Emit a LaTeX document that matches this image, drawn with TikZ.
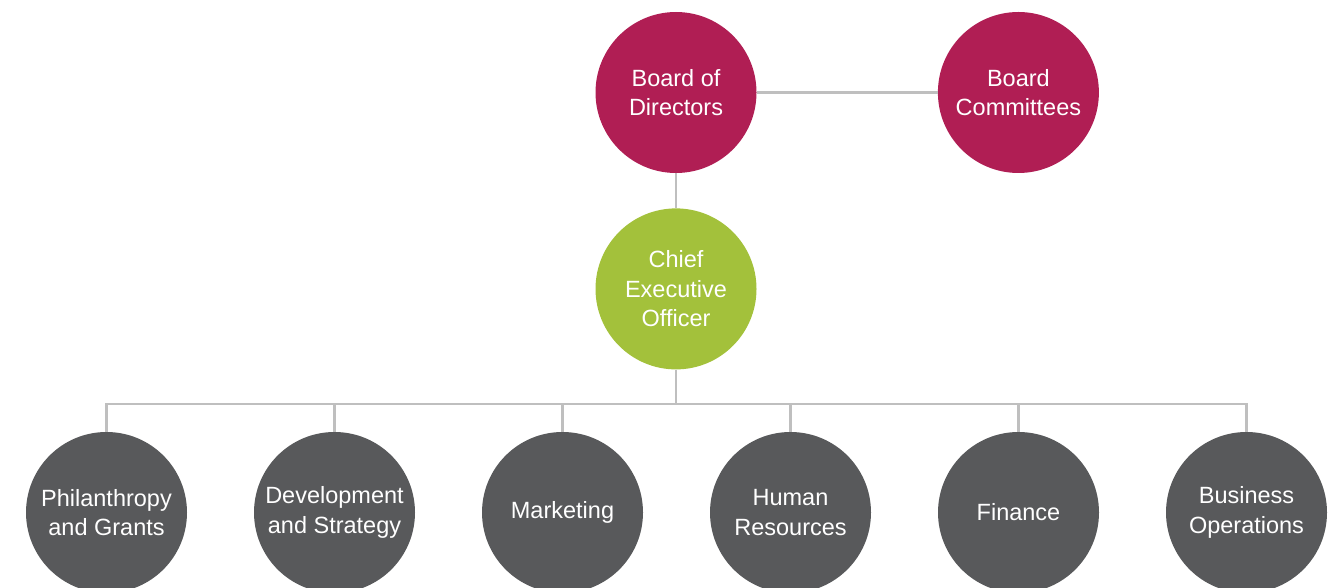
\documentclass[tikz,border=0pt]{standalone}
\usepackage{fontspec}
\setmainfont{Liberation Sans}
\usepackage{xcolor}
\usetikzlibrary{positioning}

\definecolor{boardred}{HTML}{B01E54}
\definecolor{ceogreen}{HTML}{A3C13B}
\definecolor{deptgray}{HTML}{58595B}
\definecolor{linkgray}{HTML}{BFBFBF}

\begin{document}
\begin{tikzpicture}[x=1pt, y=1pt,
        unit/.style={circle, inner sep=0pt, minimum size=161pt, align=center, text=white, font=\fontsize{23.5pt}{29.5pt}\selectfont},
        board/.style={unit, fill=boardred},
        chief/.style={unit, fill=ceogreen},
        dept/.style={unit, fill=deptgray},
        link/.style={draw=linkgray, line width=2.6pt}]
        \useasboundingbox (0,0) rectangle (1333,587);
        
        % top of the chart
        \node (bod) [board] at (676,494.5) {Board of\\Directors};
        \node (bc) [board, right=181pt of bod] {Board\\Committees};
        \node (ceo) [chief, below=35pt of bod] {Chief\\Executive\\Officer};
        
        % departments
        \node (phil) [dept] at (106.5,74.5) {Philanthropy\\and Grants};
        \node (dev) [dept, right=66.6pt of phil] {Development\\and Strategy};
        \node (mkt) [dept, right=66.6pt of dev] {Marketing};
        \node (hr) [dept, right=66.6pt of mkt] {Human\\Resources};
        \node (fin) [dept, right=66.6pt of hr] {Finance};
        \node (ops) [dept, right=66.6pt of fin] {Business\\Operations};
        
        \coordinate (bus) at ([yshift=-34.5pt]ceo.south);
        
        \draw[link] (bod) -- (bc);
        \draw[link] (bod) -- (ceo);
        \draw[link] (ceo) -- (bus);
        \foreach \d in {phil,dev,mkt,hr,fin,ops}
            \draw[link] (bus) -| (\d);
    \end{tikzpicture}
\end{document}
